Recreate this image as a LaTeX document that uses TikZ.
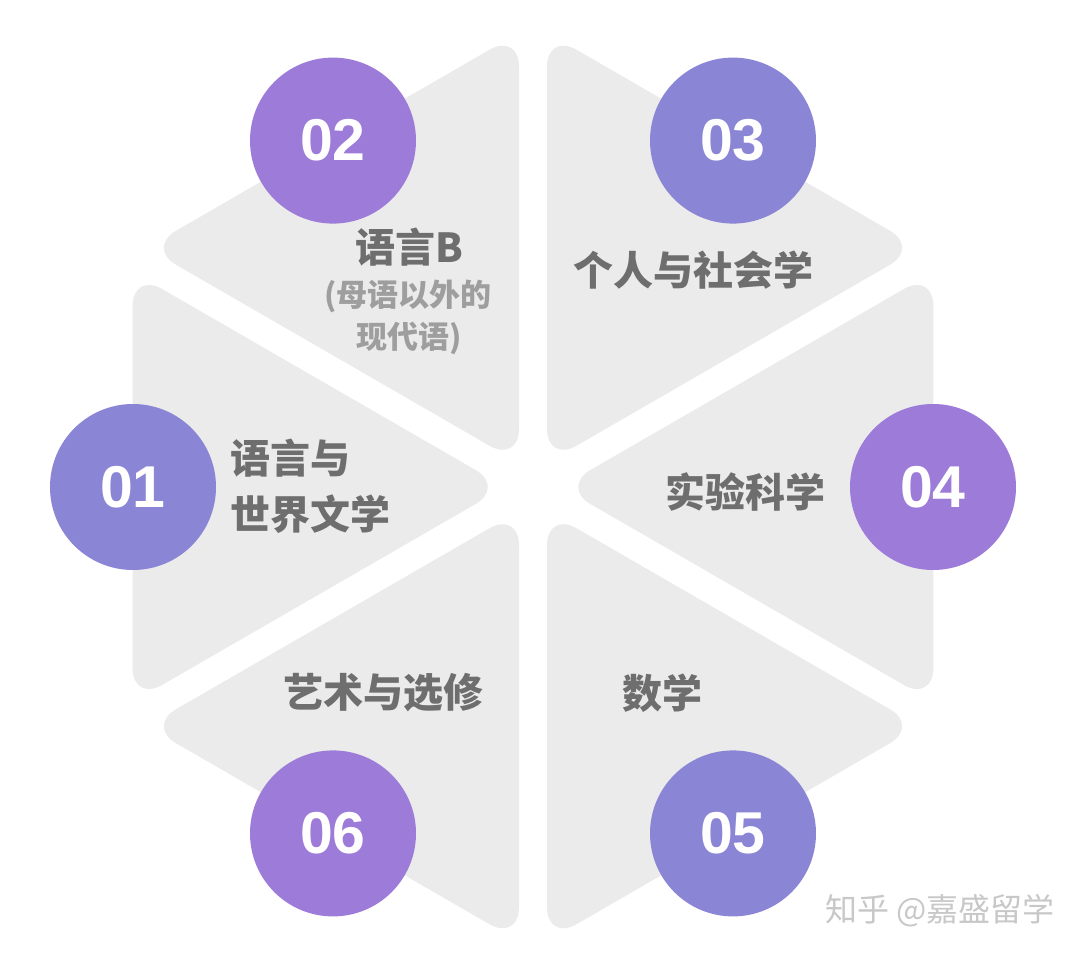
\documentclass[tikz,border=0pt]{standalone}
\usepackage{fontspec}
\setmainfont{Liberation Sans}
\newfontfamily\cjk{Noto Sans CJK SC}
\usetikzlibrary{calc}
\definecolor{trigray}{RGB}{235,235,235}
\definecolor{purpA}{RGB}{139,133,214}
\definecolor{purpB}{RGB}{157,123,217}
\definecolor{txtgray}{RGB}{110,110,110}
\definecolor{subgray}{RGB}{158,158,158}
\definecolor{wmgray}{RGB}{200,200,200}
\tikzset{
  trishape/.style={fill=trigray, rounded corners=34pt},
  numbase/.style={circle, minimum size=166pt, inner sep=0pt, text=white,
    font=\bfseries\fontsize{59}{59}\selectfont},
  numA/.style={numbase, fill=purpA},
  numB/.style={numbase, fill=purpB},
  lbl/.style={text=txtgray, inner sep=0pt, font=\cjk\bfseries\fontsize{40}{56}\selectfont},
  sublbl/.style={text=subgray, inner sep=0pt, font=\cjk\bfseries\fontsize{31}{42}\selectfont},
  wmark/.style={text=wmgray, inner sep=0pt, font=\cjk\fontsize{32}{32}\selectfont}
}
\begin{document}
\begin{tikzpicture}[x=1pt,y=-1pt]
\fill[white] (0,0) rectangle (1080,955);
\useasboundingbox (0,0) rectangle (1080,955);
\coordinate (c) at (533,487);
% six rounded triangles of the hexagon
\foreach \ang [evaluate=\ang as \angL using \ang-30, evaluate=\ang as \angR using \ang+30] in {0,60,...,300} {
  \fill[trishape] ($(c)+(\ang:28)$) -- ($(c)+(\ang:28)+(\angL:430)$) -- ($(c)+(\ang:28)+(\angR:430)$) -- cycle;
}
% numbered circles
\node[numA] (n1) at ($(c)+(180:400)$) {01};
\node[numB] (n2) at ($(c)+(240:400)$) {02};
\node[numA] (n3) at ($(c)+(300:400)$) {03};
\node[numB] (n4) at ($(c)+(0:400)$) {04};
\node[numA] (n5) at ($(c)+(60:400)$) {05};
\node[numB] (n6) at ($(c)+(120:400)$) {06};
% labels
\node[lbl, anchor=west, align=left] (t1) at (230,486) {语言与\\世界文学};
\node[lbl] (t2) at (409,247) {语言B};
\node[sublbl] (t2b) at (408,296) {(母语以外的};
\node[sublbl] (t2c) at (409,338) {现代语)};
\node[lbl] (t3) at (693,270) {个人与社会学};
\node[lbl] (t4) at (745,492) {实验科学};
\node[lbl] (t5) at (662,693) {数学};
\node[lbl] (t6) at (383,693) {艺术与选修};
% watermark
\node[wmark] (wm) at (940,911) {知乎 @嘉盛留学};
\end{tikzpicture}
\end{document}
